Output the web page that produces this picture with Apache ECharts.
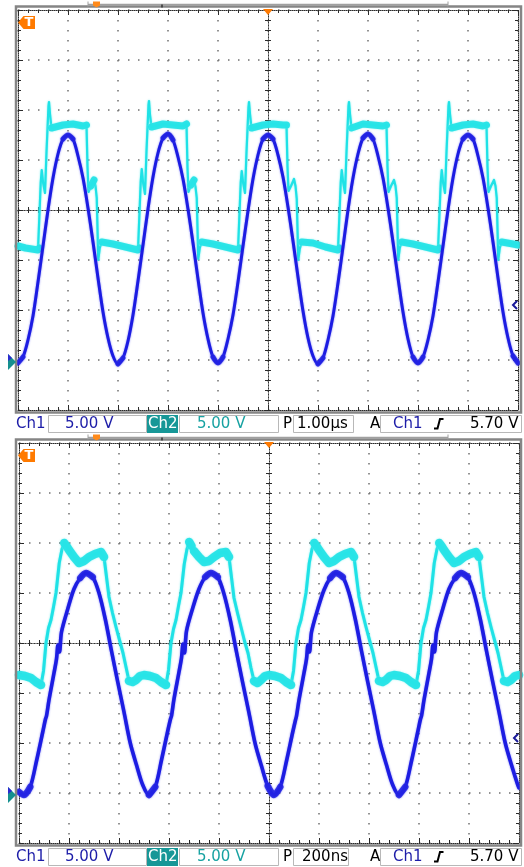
<!DOCTYPE html>
<html><head><meta charset="utf-8">
<script src="https://cdn.jsdelivr.net/npm/echarts@6/dist/echarts.min.js"></script>
<style>html,body{margin:0;padding:0;background:#fff}#c{width:524px;height:867px}</style>
</head><body><div id="c"></div><script>
// ---------- DATA ----------
// Top screen: 1.00 µs/div, Ch1/Ch2 5.00 V/div, time in µs, values in volts
const topTimeStepUs = 0.1;
const topCh1Volts = [
 -0.1,0.5,2.2,4.6,8.0,11.6,15.2,18.4,20.8,22.3,22.7,22.3,20.6,18.4,15.4,12.0,8.4,5.0,2.4,0.6,
 -0.2,0.4,2.1,4.7,8.1,11.7,15.3,18.5,20.9,22.4,22.8,22.2,20.5,18.3,15.3,11.9,8.3,4.9,2.3,0.5,
 -0.1,0.5,2.3,4.7,8.0,11.6,15.1,18.3,20.7,22.3,22.7,22.3,20.7,18.5,15.5,12.1,8.5,5.1,2.4,0.6,
 -0.2,0.4,2.2,4.6,7.9,11.5,15.2,18.4,20.8,22.4,22.8,22.3,20.6,18.4,15.4,12.0,8.4,5.0,2.3,0.5,
 -0.1,0.5,2.2,4.6,8.0,11.6,15.2,18.4,20.8,22.3,22.7,22.3,20.6,18.4,15.4,12.0,8.4,5.0,2.4,0.6,
 -0.1
];
const topCh2 = [
 [0,11.6],[0.15,11.4],[0.4,11.2],
 [0.425,11.4],[0.455,18.0],[0.475,19.2],[0.5,18.0],[0.54,16.9],[0.57,21.0],[0.61,25.6],[0.62,26.0],[0.64,24.8],[0.67,23.4],[0.7,23.4],[0.9,23.7],[1.1,23.8],[1.3,23.6],[1.37,23.7],[1.39,19.5],[1.41,17.0],[1.46,17.6],[1.52,18.2],[1.55,17.6],[1.575,16.4],[1.605,10.2],[1.635,11.4],[1.675,12.0],[1.9,11.8],[2.15,11.5],[2.4,11.2],
 [2.425,11.4],[2.455,18.1],[2.475,19.3],[2.5,18.0],[2.54,16.8],[2.57,21.1],[2.61,25.7],[2.62,26.1],[2.64,24.7],[2.67,23.5],[2.7,23.4],[2.9,23.8],[3.1,23.7],[3.3,23.6],[3.37,23.8],[3.39,19.4],[3.41,17.0],[3.46,17.7],[3.52,18.2],[3.55,17.5],[3.575,16.4],[3.605,10.3],[3.635,11.4],[3.675,12.0],[3.9,11.8],[4.15,11.5],[4.4,11.2],
 [4.425,11.4],[4.455,18.0],[4.475,19.1],[4.5,18.0],[4.54,16.9],[4.57,21.0],[4.61,25.5],[4.62,26.0],[4.64,24.8],[4.67,23.4],[4.7,23.5],[4.9,23.7],[5.1,23.8],[5.3,23.7],[5.37,23.7],[5.39,19.5],[5.41,17.1],[5.46,17.6],[5.52,18.3],[5.55,17.6],[5.575,16.3],[5.605,10.2],[5.635,11.3],[5.675,12.0],[5.9,11.9],[6.15,11.5],[6.4,11.2],
 [6.425,11.4],[6.455,18.0],[6.475,19.2],[6.5,18.1],[6.54,16.9],[6.57,21.0],[6.61,25.6],[6.62,26.0],[6.64,24.8],[6.67,23.4],[6.7,23.4],[6.9,23.8],[7.1,23.7],[7.3,23.6],[7.37,23.7],[7.39,19.5],[7.41,17.0],[7.46,17.6],[7.52,18.2],[7.55,17.6],[7.575,16.4],[7.605,10.2],[7.635,11.4],[7.675,12.0],[7.9,11.8],[8.15,11.5],[8.4,11.2],
 [8.425,11.4],[8.455,18.0],[8.475,19.2],[8.5,18.0],[8.54,16.9],[8.57,21.0],[8.61,25.6],[8.62,26.0],[8.64,24.8],[8.67,23.4],[8.7,23.4],[8.9,23.7],[9.1,23.8],[9.3,23.6],[9.37,23.7],[9.39,19.5],[9.41,17.0],[9.46,17.6],[9.52,18.2],[9.55,17.6],[9.575,16.4],[9.605,10.2],[9.635,11.4],[9.675,12.0],[9.9,11.8],[10,11.7]
];
// Bottom screen: 200 ns/div, time in ns, values in volts
const botCh1 = [
 [0,0.3],[20,0.0],[45,0.8],[70,3.4],[95,6.3],[106,7.6],[110,7.9],[120,9.5],[140,12.2],[150,13.6],[156,15.0],[162,14.3],[170,16.3],[195,18.6],[220,20.6],[245,21.7],[268,22.2],[295,21.8],[320,20.2],[345,17.6],[370,14.4],[395,11.3],[420,8.3],[445,5.2],[470,3.0],[495,1.0],
 [520,0.0],[545,0.8],[570,3.5],[595,6.4],[606,7.6],[610,7.9],[620,9.6],[640,12.3],[650,13.7],[656,15.1],[662,14.2],[670,16.4],[695,18.7],[720,20.6],[745,21.8],[768,22.2],[795,21.8],[820,20.1],[845,17.5],[870,14.3],[895,11.2],[920,8.2],[945,5.1],[970,2.9],[995,0.9],
 [1020,0.0],[1045,0.8],[1070,3.4],[1095,6.3],[1106,7.5],[1110,7.9],[1120,9.5],[1140,12.2],[1150,13.6],[1156,15.0],[1162,14.3],[1170,16.3],[1195,18.6],[1220,20.5],[1245,21.7],[1268,22.2],[1295,21.8],[1320,20.2],[1345,17.6],[1370,14.4],[1395,11.3],[1420,8.3],[1445,5.2],[1470,3.0],[1495,1.0],
 [1520,0.0],[1545,0.8],[1570,3.4],[1595,6.3],[1606,7.6],[1610,7.9],[1620,9.5],[1640,12.2],[1650,13.6],[1656,15.0],[1662,14.3],[1670,16.3],[1695,18.6],[1720,20.6],[1745,21.7],[1768,22.2],[1795,21.8],[1820,20.2],[1845,17.6],[1870,14.4],[1895,11.3],[1920,8.3],[1945,5.2],[1970,3.0],[1995,1.0],[2000,0.7]
];
const botCh2 = [
 [0,12.0],[24,11.9],[48,11.7],[68,11.3],
 [88,11.0],[98,12.4],[108,15.2],[118,16.7],[128,17.5],[138,18.8],[148,20.2],[161,23.2],[172,24.6],[181,25.2],[190,24.9],[200,24.5],[220,23.8],[240,23.2],[260,23.4],[280,23.8],[304,24.1],[328,24.3],[340,23.8],[360,19.8],[374,18.2],[388,16.8],[402,15.5],[416,14.2],[428,12.8],[440,11.4],[454,11.3],[468,11.5],[484,11.9],[500,12.0],[524,11.9],[548,11.7],[568,11.3],
 [588,11.0],[598,12.5],[608,15.2],[618,16.6],[628,17.5],[638,18.9],[648,20.2],[661,23.1],[672,24.6],[681,25.3],[690,24.9],[700,24.4],[720,23.8],[740,23.3],[760,23.4],[780,23.8],[804,24.2],[828,24.3],[840,23.8],[860,19.7],[874,18.2],[888,16.8],[902,15.4],[916,14.2],[928,12.7],[940,11.4],[954,11.2],[968,11.5],[984,11.9],[1000,12.0],[1024,11.9],[1048,11.7],[1068,11.3],
 [1088,11.0],[1098,12.4],[1108,15.2],[1118,16.7],[1128,17.5],[1138,18.8],[1148,20.2],[1161,23.2],[1172,24.6],[1181,25.2],[1190,24.9],[1200,24.5],[1220,23.8],[1240,23.2],[1260,23.4],[1280,23.8],[1304,24.1],[1328,24.3],[1340,23.8],[1360,19.8],[1374,18.2],[1388,16.8],[1402,15.5],[1416,14.2],[1428,12.8],[1440,11.4],[1454,11.3],[1468,11.5],[1484,11.9],[1500,12.0],[1524,11.9],[1548,11.7],[1568,11.3],
 [1588,11.0],[1598,12.4],[1608,15.2],[1618,16.7],[1628,17.5],[1638,18.8],[1648,20.2],[1661,23.2],[1672,24.6],[1681,25.2],[1690,24.9],[1700,24.5],[1720,23.8],[1740,23.2],[1760,23.4],[1780,23.8],[1804,24.1],[1828,24.3],[1840,23.8],[1860,19.8],[1874,18.2],[1888,16.8],[1902,15.5],[1916,14.2],[1928,12.8],[1940,11.4],[1954,11.3],[1968,11.5],[1984,11.9],[2000,12.0]
];
const statusTop = ['Ch1','5.00 V','Ch2','5.00 V','P','1.00µs','A','Ch1','5.70 V'];
const statusBot = ['Ch1','5.00 V','Ch2','5.00 V','P','200ns','A','Ch1','5.70 V'];
const triggerLevelVolts = 5.7;
const topSpanUs = 10, botSpanNs = 2000;
const voltMin = -4.8, voltMax = 35.2;   // 8 div × 5 V, ground 3.04 div below centre

// ---------- LAYOUT ----------
const W = 500, H = 400;
const panels = [{left:18, top:10, xmax:topSpanUs}, {left:19, top:443, xmax:botSpanNs}];
const CYAN = '#1fe2e6', BLUE = '#1c1ce2';
const FONT = '15px "DejaVu Sans"';

const dotStyle = {color:'#707070', width:1.5, type:[1.5,8.5]};
const edgeLine = {color:'#2a2a2a', width:1, type:[1,1]};
const centreLine = {color:'#333', width:1, type:[1,2]};
const tickStyle = {color:'#2a2a2a', width:1};

const grids = [], xAxes = [], yAxes = [];
panels.forEach(p => {
  for (let k = 0; k < 3; k++) grids.push({left:p.left, top:p.top, width:W, height:H});
});
panels.forEach((p, i) => {
  const g = i * 3;
  const base = {type:'value', axisLabel:{show:false}, splitLine:{show:false}};
  xAxes.push({gridIndex:g, type:'value', min:0, max:p.xmax, show:false});
  const edgeX = pos => Object.assign({}, base, {gridIndex:g+1, min:-5, max:5, interval:1, position:pos,
    axisLine:{show:true, onZero:false, lineStyle:edgeLine},
    axisTick:{show:true, inside:true, length:5, lineStyle:tickStyle},
    minorTick:{show:true, splitNumber:5, length:3, lineStyle:tickStyle},
    splitLine:{show:pos==='bottom', lineStyle:dotStyle}});
  const centX = pos => Object.assign({}, base, {gridIndex:g+2, min:-5, max:5, interval:1, position:pos,
    axisLine:{show:true, onZero:true, lineStyle:centreLine},
    axisTick:{show:true, inside:false, length:3, lineStyle:tickStyle},
    minorTick:{show:true, splitNumber:5, length:3, lineStyle:tickStyle}});
  xAxes.push(edgeX('bottom'), edgeX('top'), centX('bottom'), centX('top'));
  yAxes.push({gridIndex:g, type:'value', min:voltMin, max:voltMax, show:false});
  const edgeY = pos => Object.assign({}, base, {gridIndex:g+1, min:-4, max:4, interval:1, position:pos,
    axisLine:{show:true, onZero:false, lineStyle:edgeLine},
    axisTick:{show:true, inside:true, length:5, lineStyle:tickStyle},
    minorTick:{show:true, splitNumber:5, length:3, lineStyle:tickStyle},
    splitLine:{show:pos==='left', lineStyle:dotStyle}});
  const centY = pos => Object.assign({}, base, {gridIndex:g+2, min:-4, max:4, interval:1, position:pos,
    axisLine:{show:true, onZero:true, lineStyle:centreLine},
    axisTick:{show:true, inside:false, length:3, lineStyle:tickStyle},
    minorTick:{show:true, splitNumber:5, length:3, lineStyle:tickStyle}});
  yAxes.push(edgeY('left'), edgeY('right'), centY('left'), centY('right'));
});

// segments where the trace is nearly flat get drawn thicker (scope persistence band)
function flatParts(data, pxX, pxY, thr) {
  const out = [];
  let open = false;
  for (let i = 0; i < data.length - 1; i++) {
    const a = data[i], b = data[i+1];
    const s = Math.abs((b[1]-a[1])*pxY) / Math.max(1e-9, Math.abs((b[0]-a[0])*pxX));
    if (s < thr) { if (!open) out.push(a); out.push(b); open = true; }
    else if (open) { out.push([b[0], '-']); open = false; }
  }
  return out;
}
const topCh1 = topCh1Volts.map((v, i) => [+(i*topTimeStepUs).toFixed(2), v]);
const pxYV = H / (voltMax - voltMin);
const sets = [
  {d2:topCh2, d1:topCh1, pxX:W/topSpanUs, xi:0, yi:0, w2:2.2, o2:7, w1:3, o1:5},
  {d2:botCh2, d1:botCh1, pxX:W/botSpanNs, xi:5, yi:5, w2:3, o2:8.5, w1:3.6, o1:6.5}
];
const series = [];
sets.forEach(s => {
  const common = {type:'line', xAxisIndex:s.xi, yAxisIndex:s.yi, showSymbol:false, silent:true, animation:false, connectNulls:false};
  series.push(Object.assign({}, common, {data:s.d2, lineStyle:{color:CYAN, width:s.w2, cap:'round', join:'round', shadowBlur:2, shadowColor:'rgba(90,235,235,0.9)'}}));
  series.push(Object.assign({}, common, {data:flatParts(s.d2, s.pxX, pxYV, 2), lineStyle:{color:CYAN, width:s.o2, cap:'round', join:'round', opacity:0.9, shadowBlur:2, shadowColor:'rgba(120,240,240,0.9)'}}));
  series.push(Object.assign({}, common, {data:s.d1, smooth:0.3, lineStyle:{color:BLUE, width:s.w1, cap:'round', join:'round', shadowBlur:2, shadowColor:'rgba(90,90,240,0.8)'}}));
  series.push(Object.assign({}, common, {data:flatParts(s.d1, s.pxX, pxYV, 1.5), smooth:0.3, lineStyle:{color:BLUE, width:s.o1, cap:'round', join:'round', opacity:0.85, shadowBlur:2, shadowColor:'rgba(90,90,240,0.8)'}}));
});

const chart = echarts.init(document.getElementById('c'), null, {renderer:'canvas'});
chart.setOption({animation:false, backgroundColor:'#fff', grid:grids, xAxis:xAxes, yAxis:yAxes, series:series});

// ---------- DECORATIONS ----------
const gfx = [];
function txt(t, x, y, fill, font, z) {
  gfx.push({type:'text', z:z||100, style:{text:t, x:x, y:y, fill:fill, font:font||FONT, verticalAlign:'middle'}});
}
function rect(x, y, w, h, stroke, fill) {
  gfx.push({type:'rect', z:99, shape:{x:x, y:y, width:w, height:h}, style:{fill:fill||'none', stroke:stroke||null, lineWidth:1}});
}
function poly(pts, fill) { gfx.push({type:'polygon', z:101, shape:{points:pts}, style:{fill:fill}}); }
function line(pts, stroke, w) { gfx.push({type:'polyline', z:101, shape:{points:pts}, style:{stroke:stroke, lineWidth:w||1, fill:'none'}}); }

panels.forEach((p, i) => {
  const dy = p.top - 10;
  // frame
  gfx.push({type:'rect', z:98, shape:{x:16, y:6.5+dy, width:505, height:406}, style:{fill:'none', stroke:'#858585', lineWidth:2.5}});
  // orange trigger-position marker at top centre
  const cx = p.left + W/2;
  poly([[cx-5, p.top-1],[cx+5, p.top-1],[cx, p.top+5]], '#ff7a00');
  // orange "T" tag
  poly([[18,22.5+dy],[23.5,16+dy],[35,16+dy],[35,29+dy],[23.5,29+dy]], '#ff7a00');
  txt('T', 24.5, 23+dy, '#fff', 'bold 13px "DejaVu Sans"', 110);
  // ground markers and trigger level, placed through the data scales
  const xi = i*5, yi = i*5;
  const g = chart.convertToPixel({xAxisIndex:xi, yAxisIndex:yi}, [0, 0]);
  const tr = chart.convertToPixel({xAxisIndex:xi, yAxisIndex:yi}, [p.xmax, triggerLevelVolts]);
  poly([[8, g[1]-8],[16, g[1]],[8, g[1]+8]], '#15908f');
  poly([[8, g[1]-8],[12, g[1]-4],[8, g[1]-1]], '#2b2bd0');
  line([[tr[0]-1, tr[1]-4],[tr[0]-5, tr[1]],[tr[0]-1, tr[1]+4]], '#1a1a9a', 2);
  // status bar
  const st = i === 0 ? statusTop : statusBot;
  const by = 415 + dy, ty = by + 9.5;
  txt(st[0], 16, ty, '#1d1da8');
  rect(48.5, by+0.5, 98, 17, '#b8b8b8');
  txt(st[1], 65, ty, '#1d1da8');
  rect(147, by, 31, 18, null, '#179797');
  txt(st[2], 148, ty, '#ffffff');
  rect(179.5, by+0.5, 99, 17, '#b8b8b8');
  txt(st[3], 197, ty, '#18a2a2');
  txt(st[4], 283, ty, '#000');
  rect(293.5, by+0.5, i === 0 ? 60 : 55, 17, '#b8b8b8');
  txt(st[5], i === 0 ? 297 : 302, ty, '#000');
  txt(st[6], 370, ty, '#000');
  rect(380.5, by+0.5, 141, 17, '#b8b8b8');
  txt(st[7], 393, ty, '#1d1da8');
  line([[434, by+13.5],[437.5, by+13.5],[440, by+4],[443.5, by+4]], '#000', 2);
  txt(st[8], 470, ty, '#000');
});
// record-view strips above each screen
[4.5, 437.5].forEach(y => {
  line([[88, y],[448, y]], '#a0a0a0', 1.5);
  line([[88, y-3],[88, y+2]], '#a0a0a0', 1);
  line([[448, y-3],[448, y+2]], '#a0a0a0', 1);
  poly([[93, y-3],[100, y-3],[100, y+1],[96.5, y+3],[93, y+1]], '#ff8a1a');
  line([[162, y],[162, y+3]], '#333', 1.5);
});
chart.setOption({graphic: gfx});
</script></body></html>
